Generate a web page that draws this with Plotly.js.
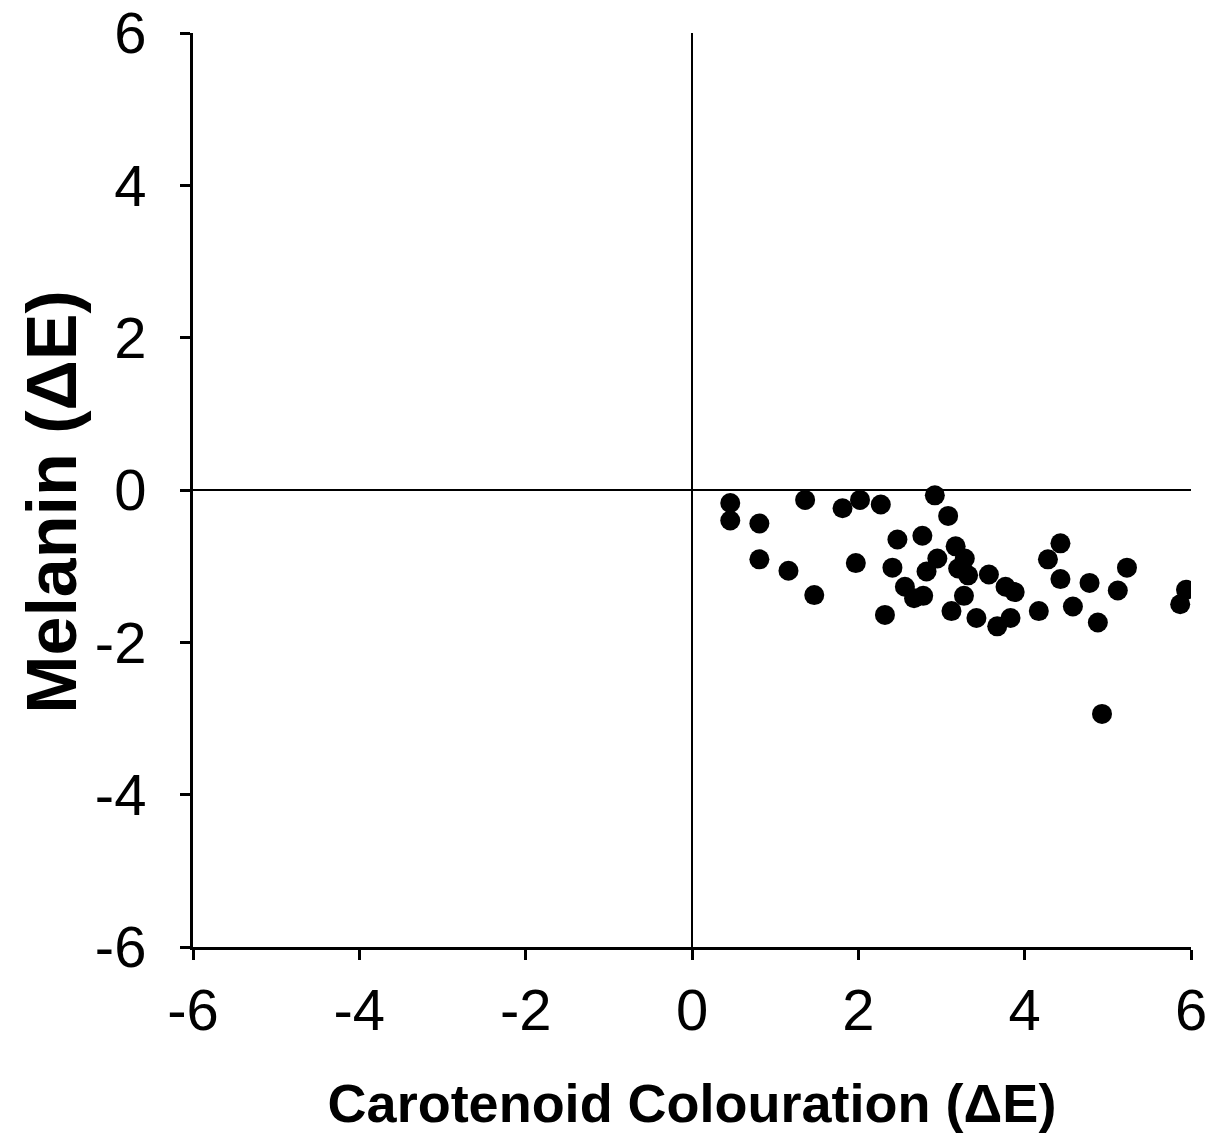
<!DOCTYPE html>
<html>
<head>
<meta charset="utf-8">
<script src="https://cdn.plot.ly/plotly-3.0.1.min.js"></script>
<style>html,body{margin:0;padding:0;background:#fff;}#chart{width:1225px;height:1148px;}</style>
</head>
<body>
<div id="chart"></div>
<script>
var carotenoid = [0.46, 0.46, 0.81, 0.81, 1.16, 1.47, 1.36, 1.81, 2.02, 2.27, 1.97, 2.47, 2.41, 2.32, 2.56, 2.67, 2.78, 2.77, 2.92, 2.95, 2.82, 3.08, 3.12, 3.17, 3.28, 3.20, 3.32, 3.57, 3.27, 3.42, 3.67, 3.83, 3.77, 3.88, 4.17, 4.43, 4.28, 4.43, 4.58, 4.78, 4.88, 5.23, 5.12, 5.94, 5.87, 4.93];
var melanin = [-0.17, -0.40, -0.44, -0.91, -1.06, -1.38, -0.13, -0.24, -0.13, -0.19, -0.96, -0.65, -1.02, -1.64, -1.27, -1.42, -1.39, -0.60, -0.07, -0.90, -1.07, -0.34, -1.59, -0.74, -0.90, -1.03, -1.12, -1.11, -1.39, -1.68, -1.79, -1.68, -1.27, -1.34, -1.59, -0.70, -0.91, -1.17, -1.53, -1.22, -1.74, -1.02, -1.32, -1.31, -1.50, -2.94];
var tickVals = [-6, -4, -2, 0, 2, 4, 6];
var tickText = ["-6", "-4", "-2", "0", "2", "4", "6"];
var xTitle = 'Carotenoid Colouration (ΔE)';
var yTitle = 'Melanin (ΔE)';

var font = "'Liberation Sans', Arial, sans-serif";
var trace = {
  x: carotenoid, y: melanin, type: 'scatter', mode: 'markers',
  marker: {color: '#000', size: 20, line: {width: 0}},
  hoverinfo: 'x+y'
};
var axisCommon = {
  range: [-6, 6], tickmode: 'array', tickvals: tickVals, ticktext: tickText,
  showgrid: false, zeroline: true, zerolinecolor: '#000', zerolinewidth: 2,
  showline: true, linecolor: '#000', linewidth: 3,
  ticks: 'outside', ticklen: 10, tickwidth: 3, tickcolor: '#000',
  tickfont: {family: font, size: 58, color: '#000'},
  fixedrange: true
};
var layout = {
  width: 1225, height: 1148,
  margin: {l: 193, r: 34, t: 33, b: 201},
  paper_bgcolor: '#fff', plot_bgcolor: '#fff',
  showlegend: false,
  xaxis: Object.assign({}, axisCommon, {
    ticklabelstandoff: 0,
    title: {text: xTitle, font: {family: font, size: 54, color: '#000', weight: 'bold'}, standoff: 44}
  }),
  yaxis: Object.assign({}, axisCommon, {
    ticklabelstandoff: 22
  }),
  annotations: [{
    text: yTitle, xref: 'paper', yref: 'paper',
    x: -0.1413, y: 0.487, xanchor: 'center', yanchor: 'middle',
    textangle: -90, showarrow: false,
    font: {family: font, size: 70, color: '#000', weight: 'bold'}
  }]
};
Plotly.newPlot('chart', [trace], layout, {displayModeBar: false, staticPlot: true});
</script>
</body>
</html>
